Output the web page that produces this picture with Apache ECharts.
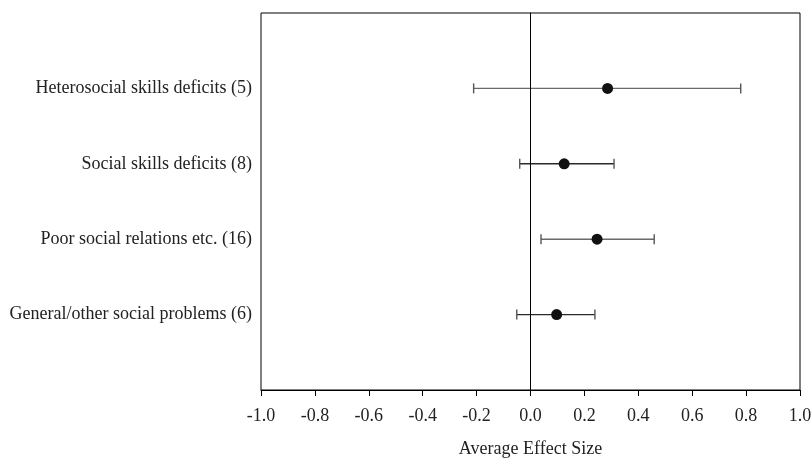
<!DOCTYPE html>
<html><head><meta charset="utf-8">
<script src="https://cdn.jsdelivr.net/npm/echarts@6/dist/echarts.min.js"></script>
<style>html,body{margin:0;padding:0;background:#fff}#c{width:811px;height:460px}</style>
</head><body><div id="c"></div>
<script>
const categories = ['Heterosocial skills deficits (5)', 'Social skills deficits (8)', 'Poor social relations etc. (16)', 'General/other social problems (6)'];
const means = [0.286, 0.125, 0.247, 0.097];
const lower = [-0.211, -0.040, 0.039, -0.051];
const upper = [0.780, 0.310, 0.459, 0.239];
const barColors = ['#6a6a6a', '#2a2a2a', '#6a6a6a', '#2a2a2a'];
const xTicks = { min: -1, max: 1, interval: 0.2 };

const font = 'Liberation Serif';
const n = categories.length;
const pos = categories.map((c, i) => n - i);

const chart = echarts.init(document.getElementById('c'), null, { renderer: 'canvas' });
chart.setOption({
  animation: false,
  backgroundColor: '#fff',
  grid: { left: 261, right: 11, top: 13, bottom: 70, outerBoundsMode: 'none', containLabel: false, show: true, borderColor: '#000', borderWidth: 1, backgroundColor: 'transparent' },
  xAxis: {
    type: 'value', min: xTicks.min, max: xTicks.max, interval: xTicks.interval,
    name: 'Average Effect Size', nameLocation: 'middle', nameGap: 50,
    nameTextStyle: { fontFamily: font, fontSize: 18, color: '#222' },
    axisLine: { show: true, lineStyle: { color: '#000', width: 1 } },
    axisTick: { show: true, length: 6, lineStyle: { color: '#000' } },
    axisLabel: { fontFamily: font, fontSize: 18, color: '#222', margin: 17, formatter: v => v.toFixed(1) },
    splitLine: { show: false }
  },
  yAxis: {
    type: 'value', min: 0, max: n + 1, interval: 1,
    axisLine: { show: true, lineStyle: { color: '#000', width: 1 } },
    axisTick: { show: false },
    splitLine: { show: false },
    axisLabel: {
      fontFamily: font, fontSize: 18, color: '#222', margin: 9,
      formatter: v => (v >= 1 && v <= n) ? categories[n - v] : ''
    }
  },
  series: [
    {
      type: 'custom',
      data: categories.map((c, i) => [lower[i], upper[i], pos[i], i]),
      renderItem: function (params, api) {
        const lo = api.coord([api.value(0), api.value(2)]);
        const hi = api.coord([api.value(1), api.value(2)]);
        const col = barColors[api.value(3)];
        const h = 5;
        return {
          type: 'group',
          children: [
            { type: 'line', shape: { x1: lo[0], y1: lo[1], x2: hi[0], y2: hi[1] }, style: { stroke: col, lineWidth: 1.4 } },
            { type: 'line', shape: { x1: lo[0], y1: lo[1] - h, x2: lo[0], y2: lo[1] + h }, style: { stroke: '#555', lineWidth: 1.4 } },
            { type: 'line', shape: { x1: hi[0], y1: hi[1] - h, x2: hi[0], y2: hi[1] + h }, style: { stroke: '#555', lineWidth: 1.4 } }
          ]
        };
      },
      z: 2
    },
    {
      type: 'scatter',
      data: means.map((m, i) => [m, pos[i]]),
      symbol: 'circle', symbolSize: 11,
      itemStyle: { color: '#111', opacity: 1 },
      z: 3,
      markLine: {
        silent: true, symbol: 'none', label: { show: false },
        lineStyle: { color: '#000', width: 1, type: 'solid', opacity: 1 },
        data: [{ xAxis: 0 }]
      }
    }
  ]
});
</script></body></html>
